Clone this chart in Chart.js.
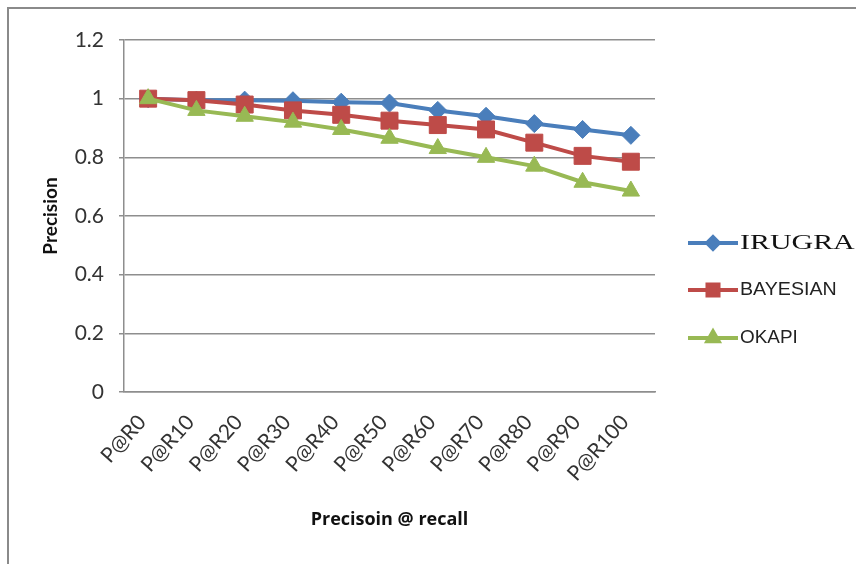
<!DOCTYPE html>
<html>
<head>
<meta charset="utf-8">
<script src="https://cdn.jsdelivr.net/npm/chart.js@4/dist/chart.umd.min.js"></script>
<style>
  html, body { margin: 0; padding: 0; background: #fff; }
  canvas { display: block; }
</style>
</head>
<body>
<canvas id="chart" width="856" height="564"></canvas>
<script>
// Precision at each recall level for the three retrieval models
const categories = ['P@R0', 'P@R10', 'P@R20', 'P@R30', 'P@R40', 'P@R50',
                    'P@R60', 'P@R70', 'P@R80', 'P@R90', 'P@R100'];
const irugra   = [1.00, 0.995, 0.995, 0.993, 0.988, 0.985, 0.96, 0.94, 0.915, 0.895, 0.875];
const bayesian = [1.00, 0.995, 0.98, 0.96, 0.945, 0.925, 0.91, 0.895, 0.85, 0.805, 0.785];
const okapi    = [1.00, 0.96, 0.94, 0.92, 0.895, 0.865, 0.83, 0.80, 0.77, 0.715, 0.685];
const seriesNames = ['IRUGRA', 'BAYESIAN', 'OKAPI'];
const yTickLabels = ['0', '0.2', '0.4', '0.6', '0.8', '1', '1.2'];
const yMin = 0, yMax = 1.2, yStep = 0.2;

const BLUE = '#4a7ebb', RED = '#be4b48', GREEN = '#98b954';
const GRID = '#8e8e8e';
const TICK_FONT = { family: 'Lato, "Noto Sans", sans-serif', size: 21 };

// Per-entry legend styling (the first entry is set in a serif face)
const legendStyles = [
  { font: '22px "Liberation Serif", "DejaVu Serif", serif', color: '#111', stretch: 1.36 },
  { font: '18px "Liberation Sans", Arial, sans-serif', color: '#222', stretch: 1.09 },
  { font: '18px "Liberation Sans", Arial, sans-serif', color: '#222', stretch: 1.05 }
];

// Outer frame: grey rule along the top and left edges
const framePlugin = {
  id: 'frame',
  beforeDraw(chart) {
    const { ctx, width, height } = chart;
    ctx.save();
    ctx.fillStyle = '#fff';
    ctx.fillRect(0, 0, width, height);
    ctx.strokeStyle = '#8a8a8a';
    ctx.lineWidth = 2;
    ctx.beginPath();
    ctx.moveTo(8, height);
    ctx.lineTo(8, 8);
    ctx.lineTo(width, 8);
    ctx.stroke();
    ctx.restore();
  }
};

// Legend on the right, drawn with each series' own marker and font
const sideLegend = {
  id: 'sideLegend',
  afterDraw(chart) {
    const { ctx } = chart;
    const x0 = 688, x1 = 738, rowY = [243, 290, 338];
    chart.data.datasets.forEach((ds, i) => {
      const y = rowY[i];
      ctx.save();
      ctx.strokeStyle = ds.borderColor;
      ctx.lineWidth = 4;
      ctx.beginPath();
      ctx.moveTo(x0, y);
      ctx.lineTo(x1, y);
      ctx.stroke();
      ctx.fillStyle = ds.borderColor;
      ctx.strokeStyle = ds.borderColor;
      Chart.helpers.drawPoint(ctx, {
        pointStyle: ds.pointStyle, rotation: 0,
        radius: ds.pointRadius * 0.65, borderWidth: 1
      }, (x0 + x1) / 2, y);
      const st = legendStyles[i];
      ctx.font = st.font;
      ctx.fillStyle = st.color;
      ctx.textBaseline = 'middle';
      ctx.textAlign = 'left';
      ctx.translate(x1 + 2, y);
      ctx.scale(st.stretch, 1);
      ctx.fillText(ds.label, 0, 0);
      ctx.restore();
    });
  }
};

const makeSeries = (label, data, color, style, radius, order) => ({
  label, data, order,
  borderColor: color, backgroundColor: color,
  pointBackgroundColor: color, pointBorderColor: color,
  borderWidth: 4, pointStyle: style, pointRadius: radius, pointBorderWidth: 1,
  tension: 0, fill: false
});

new Chart(document.getElementById('chart'), {
  type: 'line',
  data: {
    labels: categories,
    datasets: [
      makeSeries(seriesNames[0], irugra, BLUE, 'rectRot', 9, 3),
      makeSeries(seriesNames[1], bayesian, RED, 'rect', 12, 2),
      makeSeries(seriesNames[2], okapi, GREEN, 'triangle', 10, 1)
    ]
  },
  options: {
    responsive: false,
    animation: false,
    events: [],
    layout: { padding: { left: 0, right: 201, top: 40, bottom: 32 } },
    plugins: {
      legend: { display: false },
      tooltip: { enabled: false }
    },
    scales: {
      x: {
        offset: true,
        grid: { display: false, drawTicks: false },
        border: { display: true, color: GRID, width: 1.5 },
        ticks: {
          font: TICK_FONT, color: '#333',
          maxRotation: 48, minRotation: 48, padding: 18, labelOffset: -6, autoSkip: false
        },
        title: {
          display: true, text: 'Precisoin @ recall', color: '#111',
          font: { family: '"Open Sans", Lato, sans-serif', size: 18, weight: 'bold' },
          padding: { top: 0, bottom: 1 }
        },
        afterFit(scale) { scale.height = 140; }
      },
      y: {
        min: yMin, max: yMax,
        grid: { color: GRID, lineWidth: 1.5, drawTicks: true, tickLength: 5 },
        border: { display: true, color: GRID, width: 1.5 },
        ticks: {
          stepSize: yStep, font: TICK_FONT, color: '#333', padding: 15,
          callback: (value, index) => yTickLabels[index]
        },
        title: {
          display: true, text: 'Precision', color: '#111',
          font: { family: 'Lato, "Noto Sans", sans-serif', size: 19, weight: 'bold' },
          padding: { top: 39, bottom: 0 }
        },
        afterFit(scale) { scale.width = 124; }
      }
    }
  },
  plugins: [framePlugin, sideLegend]
});
</script>
</body>
</html>
